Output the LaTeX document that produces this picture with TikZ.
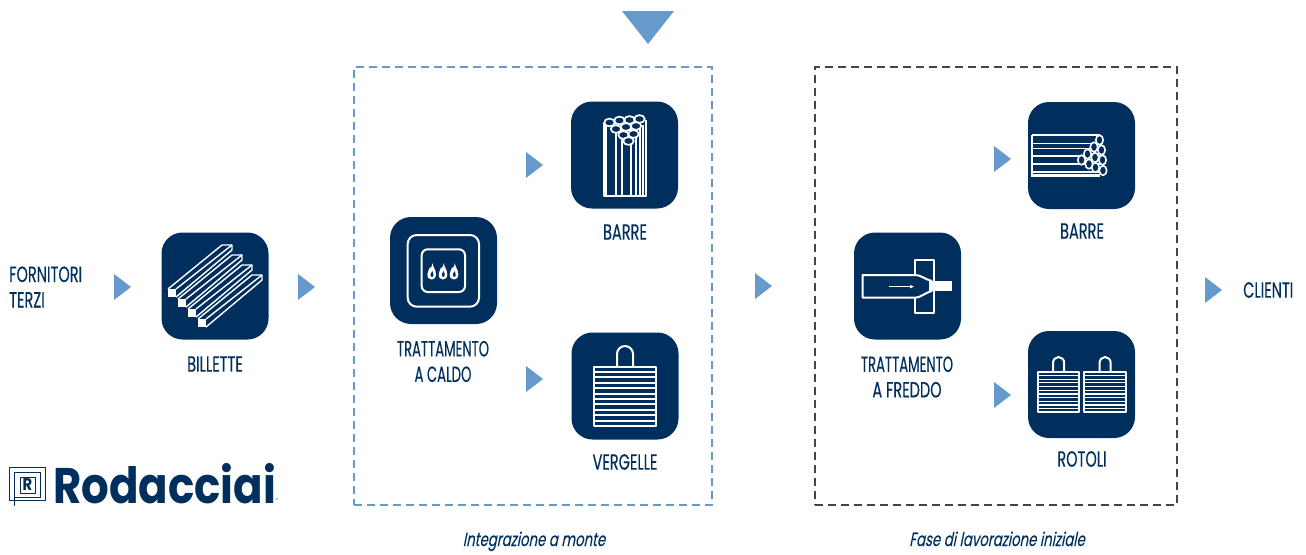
\documentclass[tikz,border=0pt]{standalone}
\usepackage{fontspec}
\setmainfont{Poppins}
\newfontfamily\labfont[FakeStretch=0.66,FakeBold=0.25]{Poppins}
\newfontfamily\narrowlab[FakeStretch=0.6,FakeBold=0.25]{Poppins}
\newfontfamily\capfont[FakeStretch=0.7,FakeSlant=0.2,FakeBold=0.1]{Poppins}
\newfontfamily\logofont[FakeStretch=0.87]{Poppins}
\definecolor{navy}{HTML}{002F5D}
\definecolor{midblue}{HTML}{6699CC}
\definecolor{greyframe}{HTML}{444444}
\tikzset{
  iconbox/.style={fill=navy,draw=none,rounded corners=21pt,minimum width=107pt,minimum height=107pt,inner sep=0pt},
  lab/.style={font=\labfont\fontsize{22}{25.5}\selectfont,text=navy,align=center,inner sep=0pt},
  captext/.style={font=\capfont\fontsize{19}{20}\selectfont,text=navy,inner sep=0pt,anchor=base},
  tri/.style={fill=midblue,draw=none},
  ico/.style={draw=white,line width=2pt,line join=round}
}
\newcommand{\flame}[2]{%
  \fill[white,shift={(#1,#2)}] (0.8,-8.5) .. controls (1,-4.5) and (4.3,-2) .. (4.3,3) .. controls (4.3,6.5) and (2,8) .. (0,8) .. controls (-2.5,8) and (-4.3,6.5) .. (-4.3,3) .. controls (-4.3,0.5) and (-2.8,-1) .. (-2.2,-3.5) .. controls (-1,-2.5) and (0.3,-5) .. (0.8,-8.5);
  \fill[navy,shift={(#1,#2)}] (0.8,-0.5) .. controls (2.2,2) and (2.2,5.5) .. (0,5.5) .. controls (-1.8,5.5) and (-1.8,2.5) .. (0.8,-0.5);
}
\newcommand{\righttri}[2]{\fill[tri] (#1,#2-13) -- (#1+17,#2) -- (#1,#2+13) -- cycle;}
\begin{document}
\begin{tikzpicture}[x=1pt,y=-1pt]
\useasboundingbox (0,0) rectangle (1306,554);
% frames
\node[draw=midblue,dash pattern=on 8pt off 5pt,line width=2pt,minimum width=358pt,minimum height=438pt,inner sep=0pt] (frameA) at (533,286) {};
\node[draw=greyframe,dash pattern=on 8pt off 5pt,line width=2pt,minimum width=362pt,minimum height=438pt,inner sep=0pt] (frameB) at (995.5,286) {};
% triangles
\fill[tri] (622,11) -- (674,11) -- (648,44) -- cycle;
\righttri{114}{287}
\righttri{298}{287}
\righttri{755}{286}
\righttri{526}{165}
\righttri{526}{379}
\righttri{994}{159}
\righttri{994}{395}
\righttri{1205}{290}
% icon boxes
\node[iconbox] (billette) at (215,286) {};
\node[iconbox] (caldo) at (443.5,270.5) {};
\node[iconbox] (barreA) at (624.5,155) {};
\node[iconbox] (vergelle) at (625,386) {};
\node[iconbox] (freddo) at (907.5,286) {};
\node[iconbox] (barreB) at (1081.5,155.5) {};
\node[iconbox] (rotoli) at (1081.5,384.5) {};
% billette icon
\foreach \dd in {0,1,2,3}{
  \begin{scope}[shift={(10*\dd,10*\dd)}]
    \draw[white,line width=1.4pt,line join=round] (168,289) -- (222,245) -- (232,245) -- (232,250) -- (176,297);
    \draw[white,line width=1.4pt] (176,289) -- (232,245);
    \fill[white] (168,289) rectangle (176,297);
  \end{scope}
}
% furnace icon
\draw[white,line width=2pt,rounded corners=9pt] (407.7,235) rectangle (479,306.7);
\draw[white,line width=2pt,rounded corners=6pt] (421.7,249.3) rectangle (465,292);
\flame{431.7}{271.5}
\flame{443}{271.5}
\flame{454}{271.5}
% bars A icon
\draw[ico,fill=none] (603.5,123) -- (603.5,196) -- (646,196) -- (646,120);
\foreach \vx in {606,616,622,631,636,640,643}
  \draw[white,line width=1.5pt] (\vx,125) -- (\vx,196);
\foreach \cx/\cy in {609.5/122.5,619.5/120.5,629.5/120,639.5/119,616/129,626/127,636/126,623.5/135,633.5/134,628.5/141}
  \draw[white,line width=1.7pt,fill=navy] (\cx,\cy) ellipse (5.2 and 3.9);
% vergelle icon
\draw[ico] (617,367) -- (617,354) arc[start angle=180,end angle=360,x radius=8,y radius=8] -- (633,367);
\foreach \yy in {372,377.4,...,424}
  \draw[white,line width=1.9pt] (594,\yy) -- (655.5,\yy);
\draw[ico] (594,367) rectangle (655.5,426);
% cold-drawing icon
\draw[ico] (915,260) rectangle (934,313.3);
\draw[ico,fill=navy] (932,281) .. controls (924,279) and (921,275) .. (915,275) -- (862.7,275) -- (862.7,297.7) -- (915,297.7) .. controls (921,297.7) and (924,293) .. (932,291);
\fill[white] (929,281.2) -- (951.7,281.2) -- (951.7,290.7) -- (929,290.7) -- cycle;
\draw[white,line width=0.8pt] (889,286.7) -- (911,286.7);
\fill[white] (914,286.7) -- (910,285) -- (910,288.4) -- cycle;
% bars B icon
\foreach \yy in {135,143.5,148.5,156,164,172,175,176.5}
  \draw[white,line width=1.7pt] (1032,\yy) -- (1100,\yy);
\draw[white,line width=1.7pt] (1032,135) -- (1032,176.5);
\foreach \cx/\cy in {1099.5/140,1094/147,1101.5/150,1087.5/154,1095/157.5,1102.5/160,1081.5/160,1089/164,1095.5/167.5,1103/170.5}
  \draw[white,line width=1.6pt,fill=navy] (\cx,\cy) ellipse (3.7 and 4.8);
% rotoli icon
\draw[ico] (1053,372) -- (1053,363) arc[start angle=180,end angle=360,x radius=5.6,y radius=6] -- (1064.2,372);
\draw[ico] (1099.5,372) -- (1099.5,363) arc[start angle=180,end angle=360,x radius=5.6,y radius=6] -- (1110.7,372);
\foreach \yy in {375.4,379.1,...,410}{
  \draw[white,line width=1.2pt] (1037.7,\yy) -- (1079,\yy);
  \draw[white,line width=1.2pt] (1084.3,\yy) -- (1125.7,\yy);
}
\draw[ico,line width=1.7pt] (1037.7,371.7) rectangle (1079,412.3);
\draw[ico,line width=1.7pt] (1084.3,371.7) rectangle (1125.7,412.3);
% labels
\node[lab,align=left,anchor=west] (fornitori) at (9,287) {FORNITORI\\TERZI};
\node[lab] (lbillette) at (215,364) {BILLETTE};
\node[lab] (lcaldo) at (443,361.5) {{\narrowlab TRATTAMENTO}\\{\narrowlab A CALDO}};
\node[lab] (lbarreA) at (625,232) {BARRE};
\node[lab] (lvergelle) at (625,462) {VERGELLE};
\node[lab] (lfreddo) at (907,377) {{\narrowlab TRATTAMENTO}\\A FREDDO};
\node[lab] (lbarreB) at (1082,231) {BARRE};
\node[lab] (lrotoli) at (1082,459) {ROTOLI};
\node[lab,anchor=west] (clienti) at (1243,290) {CLIENTI};
\node[captext] (capA) at (534,546) {Integrazione a monte};
\node[captext] (capB) at (997,546) {Fase di lavorazione iniziale};
% logo
\draw[navy,line width=0.9pt] (9.3,467.3) rectangle (45,500.7);
\draw[navy,line width=0.9pt] (14.3,472) rectangle (40,497);
\draw[navy,line width=0.9pt] (14.3,472) -- (14.3,506);
\draw[navy,line width=0.9pt] (20,477) rectangle (35,493);
\node[text=navy,font=\logofont\bfseries\fontsize{17}{17}\selectfont,inner sep=0pt] (logoR) at (27.5,485) {R};
\node[text=navy,font=\logofont\bfseries\fontsize{50}{50}\selectfont,inner sep=0pt,anchor=base west] (logo) at (53,503) {Rodacciai};
\node[text=midblue,font=\fontsize{6}{6}\selectfont,inner sep=0pt] (logoreg) at (277,500.5) {®};
\end{tikzpicture}
\end{document}
